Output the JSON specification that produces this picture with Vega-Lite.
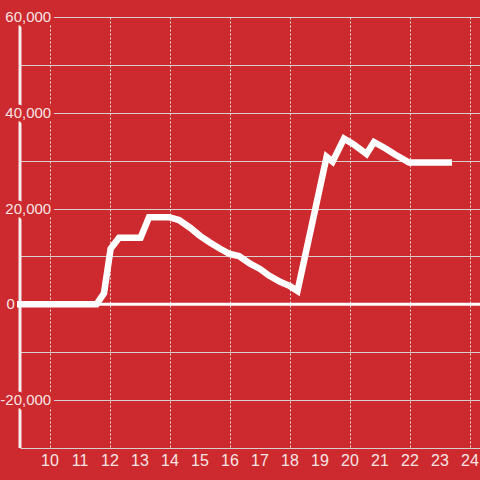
{
  "$schema": "https://vega.github.io/schema/vega-lite/v6.json",
  "width": 460,
  "height": 431,
  "autosize": {"type": "none"},
  "padding": {"left": 20, "top": 17, "right": 0, "bottom": 32},
  "background": "#cd2a2f",
  "config": {
    "view": {"stroke": null},
    "font": "Liberation Sans"
  },
  "datasets": {
    "series": [
      {"hour": 8.9, "value": 0},
      {"hour": 11.55, "value": 0},
      {"hour": 11.8, "value": 2300},
      {"hour": 12.02, "value": 11600},
      {"hour": 12.3, "value": 13900},
      {"hour": 13.02, "value": 13900},
      {"hour": 13.3, "value": 18200},
      {"hour": 13.97, "value": 18200},
      {"hour": 14.3, "value": 17600},
      {"hour": 14.67, "value": 16000},
      {"hour": 15.0, "value": 14300},
      {"hour": 15.33, "value": 12900},
      {"hour": 15.67, "value": 11600},
      {"hour": 16.0, "value": 10500},
      {"hour": 16.3, "value": 10100},
      {"hour": 16.67, "value": 8500},
      {"hour": 17.0, "value": 7400},
      {"hour": 17.3, "value": 6000},
      {"hour": 17.67, "value": 4700},
      {"hour": 18.0, "value": 3800},
      {"hour": 18.25, "value": 2800},
      {"hour": 19.22, "value": 30800},
      {"hour": 19.42, "value": 29800},
      {"hour": 19.8, "value": 34600},
      {"hour": 20.1, "value": 33500},
      {"hour": 20.55, "value": 31400},
      {"hour": 20.8, "value": 33900},
      {"hour": 21.2, "value": 32500},
      {"hour": 21.5, "value": 31300},
      {"hour": 21.97, "value": 29600},
      {"hour": 23.4, "value": 29600}
    ],
    "ticks": [
      {"v": -20000, "label": "-20,000"},
      {"v": 20000, "label": "20,000"},
      {"v": 40000, "label": "40,000"},
      {"v": 60000, "label": "60,000"}
    ],
    "zeroTick": [
      {"v": 0, "label": "0"}
    ],
    "hours": [
      {"h": 10}, {"h": 11}, {"h": 12}, {"h": 13}, {"h": 14}, {"h": 15}, {"h": 16}, {"h": 17},
      {"h": 18}, {"h": 19}, {"h": 20}, {"h": 21}, {"h": 22}, {"h": 23}, {"h": 24}
    ]
  },
  "layer": [
    {
      "data": {"values": [{"v": 0, "a": 8.9, "b": 24.333}]},
      "mark": {"type": "rule", "stroke": "#ffffff", "strokeWidth": 3},
      "encoding": {
        "x": {
          "field": "a",
          "type": "quantitative",
          "scale": {"domain": [9, 24.333], "nice": false, "zero": false},
          "axis": {
            "values": [10, 11, 12, 13, 14, 15, 16, 17, 18, 19, 20, 21, 22, 23, 24],
            "grid": true,
            "gridDash": [2, 2],
            "gridColor": "#e6dcdc",
            "gridWidth": 1,
            "domain": false,
            "ticks": false,
            "labels": false,
            "title": null
          }
        },
        "x2": {"field": "b"},
        "y": {
          "field": "v",
          "type": "quantitative",
          "scale": {"domain": [-30000, 60000], "nice": false, "zero": false},
          "axis": {
            "values": [-30000, -20000, -10000, 0, 10000, 20000, 30000, 40000, 50000, 60000],
            "grid": true,
            "gridColor": "#d9cfcf",
            "gridWidth": 1,
            "labels": false,
            "ticks": false,
            "domain": false,
            "title": null
          }
        }
      }
    },
    {
      "data": {"values": [{"v": 9}]},
      "mark": {"type": "rule", "stroke": "#f4eeee", "strokeWidth": 3},
      "encoding": {
        "x": {"field": "v", "type": "quantitative"}
      }
    },
    {
      "data": {"name": "hours"},
      "mark": {"type": "text", "align": "center", "baseline": "middle", "fontSize": 16, "fill": "#f6e4e4", "dy": 13},
      "encoding": {
        "x": {"field": "h", "type": "quantitative"},
        "y": {"datum": -30000},
        "text": {"field": "h", "type": "quantitative"}
      }
    },
    {
      "data": {"name": "ticks"},
      "mark": {"type": "text", "align": "right", "baseline": "middle", "fontSize": 15, "fill": "#cd2a2f", "stroke": "#cd2a2f", "strokeWidth": 7, "strokeJoin": "round"},
      "encoding": {
        "x": {"datum": 10.04},
        "y": {"field": "v", "type": "quantitative"},
        "text": {"field": "label"}
      }
    },
    {
      "data": {"name": "ticks"},
      "mark": {"type": "text", "align": "right", "baseline": "middle", "fontSize": 15, "fill": "#f6e4e4"},
      "encoding": {
        "x": {"datum": 10.04},
        "y": {"field": "v", "type": "quantitative"},
        "text": {"field": "label"}
      }
    },
    {
      "data": {"name": "zeroTick"},
      "mark": {"type": "text", "align": "left", "baseline": "middle", "fontSize": 15, "fill": "#f6e4e4"},
      "encoding": {
        "x": {"datum": 8.55},
        "y": {"field": "v", "type": "quantitative"},
        "text": {"field": "label"}
      }
    },
    {
      "data": {"name": "series"},
      "mark": {"type": "line", "stroke": "#ffffff", "strokeWidth": 6.5, "strokeJoin": "miter", "strokeCap": "butt", "clip": false},
      "encoding": {
        "x": {"field": "hour", "type": "quantitative"},
        "y": {"field": "value", "type": "quantitative"}
      }
    }
  ]
}
